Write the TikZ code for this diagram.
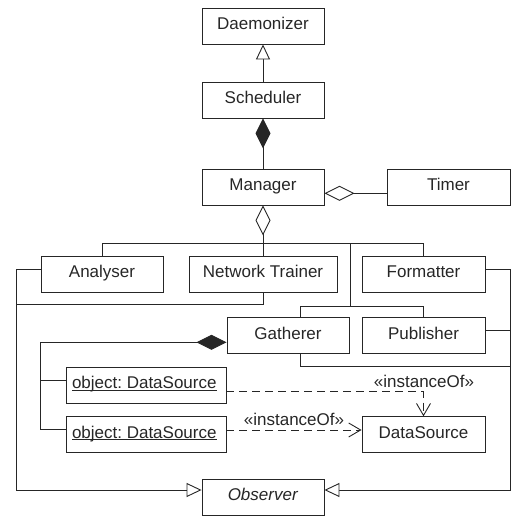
\documentclass[tikz,border=0pt]{standalone}
\usepackage{fontspec}
\setmainfont{Liberation Sans}
\usetikzlibrary{arrows.meta}
\frenchspacing
\newcommand\myul[1]{\setbox0\hbox{#1}\rlap{\rule[-2pt]{\wd0}{0.8pt}}\box0}
\begin{document}
\begin{tikzpicture}[x=1pt,y=-1pt, line width=0.9pt, color={black!85},
 box/.style={draw, rectangle, minimum height=36pt, inner sep=0pt, font=\fontsize{17}{20}\selectfont, text height=12.5pt, text depth=5pt},
 lbl/.style={font=\fontsize{17}{20}\selectfont, inner sep=0pt},
 gen/.style={-{Triangle[open,length=15pt,width=14pt,fill=white]}},
 comp/.style={{Diamond[length=30pt,width=15pt]}-},
 aggr/.style={{Diamond[open,length=30pt,width=15pt,fill=white]}-},
 dep/.style={dash pattern=on 8pt off 5pt, -{Straight Barb[length=12pt,width=14pt]}}
]
\useasboundingbox (0,0) rectangle (511,517);
% classes
\node[box, minimum width=122pt] (dae) at (263,26) {Daemonizer};
\node[box, minimum width=122pt] (sch) at (263,100) {Scheduler};
\node[box, minimum width=122pt] (man) at (263,187) {Manager};
\node[box, minimum width=123pt] (tim) at (448.5,187) {Timer};
\node[box, minimum width=122pt] (ana) at (102,274) {Analyser};
\node[box, minimum width=148pt] (net) at (263,274) {Network Trainer};
\node[box, minimum width=123pt] (for) at (423.5,274) {Formatter};
\node[box, minimum width=122pt, minimum height=35.5pt] (gat) at (288,335.5) {Gatherer};
\node[box, minimum width=123pt, minimum height=35.5pt] (pub) at (423.5,335.5) {Publisher};
\node[box, minimum width=160pt] (ob1) at (146,385) {\makebox[148pt][l]{\myul{object: DataSource}}};
\node[box, minimum width=160pt, minimum height=35.5pt] (ob2) at (146,434.5) {\makebox[148pt][l]{\myul{object: DataSource}}};
\node[box, minimum width=123pt, minimum height=35.5pt] (ds) at (423.5,434.5) {DataSource};
\node[box, minimum width=122pt] (obs) at (263,497) {\textit{Observer}};
% helper coordinates
\coordinate (ty) at (0,193.3);
\coordinate (bus) at (263,243.3);
\coordinate (j1) at (350,243.3);
\coordinate (j2) at (350,306.5);
\coordinate (gx) at (300.7,0);
\coordinate (lx) at (16.3,0);
\coordinate (rx) at (510,0);
\coordinate (ly) at (0,269);
\coordinate (oy) at (0,490);
\coordinate (nty) at (0,304.5);
\coordinate (py) at (0,330);
\coordinate (gy) at (0,366.7);
\coordinate (cy) at (0,342.3);
\coordinate (cx) at (40.7,0);
\coordinate (o1y) at (0,380.7);
\coordinate (o2y) at (0,429);
\coordinate (d1y) at (0,391.7);
\coordinate (d2y) at (0,430);
% connectors
\draw[gen] (sch.north) -- (dae.south);
\draw[comp] (sch.south) -- (man.north);
\draw[aggr] (man.east |- ty) -- (tim.west |- ty);
\draw[aggr] (man.south) -- (bus);
\draw (ana.north) |- (bus) -| (for.north);
\draw (net.north) -- (bus);
\draw (j1) -- (j2);
\draw (gat.north -| gx) |- (j2) -| (pub.north);
\draw[gen] (ana.west |- ly) -| (lx |- oy) -- (obs.west |- oy);
\draw (net.south) |- (lx |- nty);
\draw[gen] (for.east |- ly) -| (rx |- oy) -- (obs.east |- oy);
\draw (pub.east |- py) -- (rx |- py);
\draw (gat.south -| gx) |- (rx |- gy);
\draw[comp] (gat.west |- cy) -| (cx |- o2y) -- (ob2.west |- o2y);
\draw (cx |- o1y) -- (ob1.west |- o1y);
\draw[dep] (ob1.east |- d1y) -| (ds.north);
\draw[dep] (ob2.east |- d2y) -- (ds.west |- d2y);
\node[lbl] (l1) at (424,381) {«instanceOf»};
\node[lbl] (l2) at (294,419) {«instanceOf»};
\end{tikzpicture}
\end{document}
